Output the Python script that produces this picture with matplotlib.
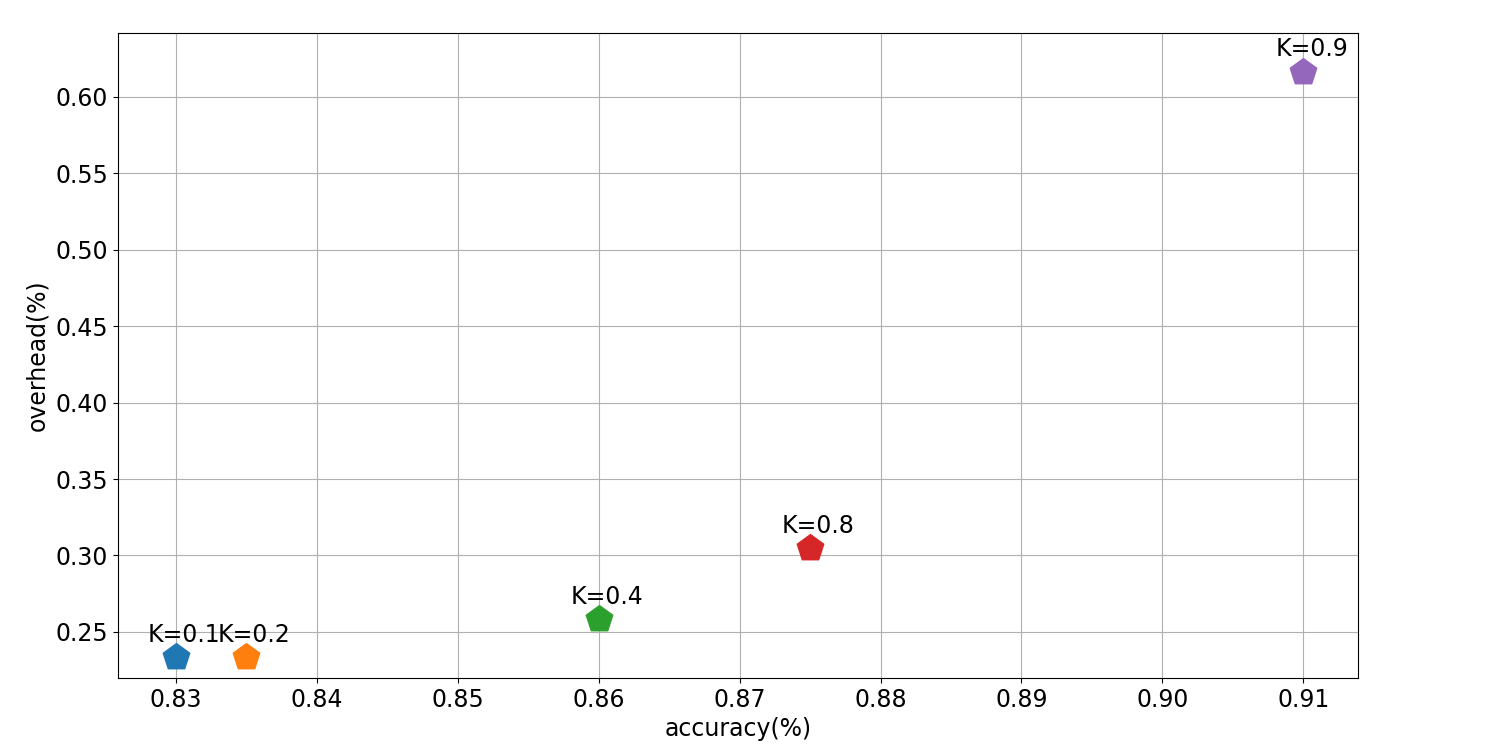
import matplotlib
matplotlib.use('Agg')
import matplotlib.pyplot as plt

# K values and measured results
k_values = [0.1, 0.2, 0.4, 0.8, 0.9]
accuracy = [0.830, 0.835, 0.860, 0.875, 0.910]
overhead = [0.2335, 0.2335, 0.2585, 0.305, 0.6165]

plt.rcParams['font.size'] = 17

fig = plt.figure(figsize=(15.11, 7.45), dpi=100)
fig.subplots_adjust(left=0.078, right=0.899, top=0.956, bottom=0.09)
ax = fig.add_subplot(111)

for k, acc, ov in zip(k_values, accuracy, overhead):
    ax.scatter(acc, ov, marker='p', s=400, zorder=3)
    # label sits a little left of and above the point
    ax.text(acc - 0.002, ov + 0.01, 'K=' + str(k), zorder=4)

ax.set_xlim(0.8259, 0.9139)
ax.set_ylim(0.2199, 0.6419)
ax.grid(True)
ax.set_axisbelow(True)
ax.set_xlabel('accuracy(%)')
ax.set_ylabel('overhead(%)')

fig.savefig('out.png')
